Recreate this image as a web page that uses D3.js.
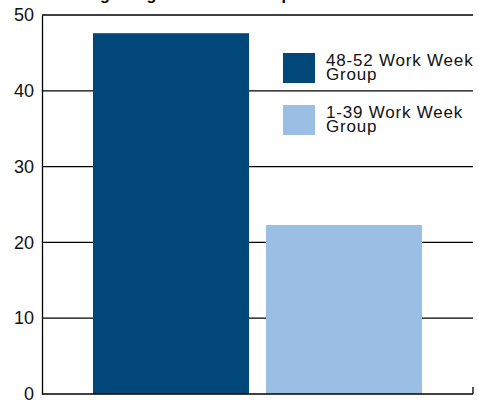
<!DOCTYPE html>
<html>
<head>
<meta charset="utf-8">
<script src="https://cdn.jsdelivr.net/npm/d3@7"></script>
<style>
  html, body { margin: 0; padding: 0; background: #fff; }
  svg { display: block; font-family: "Liberation Sans", Arial, Helvetica, sans-serif; }
</style>
</head>
<body>
<svg id="chart" width="479" height="400"></svg>
<script>
// Data
const groups = ["48-52 Work Week Group", "1-39 Work Week Group"];
const values = [47.6, 22.3];
const colors = ["#01477a", "#9bbfe4"];
const legendLines = [["48-52 Work Week", "Group"], ["1-39 Work Week", "Group"]];
const yTicks = [0, 10, 20, 30, 40, 50];
const title = "Average Wage Rates for Group";

const svg = d3.select("#chart");
const plot = { left: 42, right: 473, top: 15, bottom: 394 };

const y = d3.scaleLinear().domain([0, 50]).range([plot.bottom, plot.top]);
const x = d3.scaleBand().domain(groups).range([plot.left, plot.right])
  .paddingInner(0.0983).paddingOuter(0.2948);

// Title, running off the top edge
svg.append("text")
  .attr("x", 56).attr("y", 0)
  .attr("font-size", 16).attr("font-weight", "bold")
  .text(title);

// Horizontal gridlines
svg.append("g")
  .selectAll("line")
  .data(yTicks.filter(d => d > 0))
  .join("line")
  .attr("x1", plot.left).attr("x2", plot.right)
  .attr("y1", d => y(d)).attr("y2", d => y(d))
  .attr("stroke", "#000").attr("stroke-width", 1.3);

// Bars
svg.append("g")
  .selectAll("rect")
  .data(values)
  .join("rect")
  .attr("x", (d, i) => x(groups[i]))
  .attr("width", x.bandwidth())
  .attr("y", d => y(d))
  .attr("height", d => y(0) - y(d))
  .attr("fill", (d, i) => colors[i]);

// Left axis with labels
const yAxis = d3.axisLeft(y).tickValues(yTicks).tickSize(0).tickPadding(8);
const ga = svg.append("g").attr("transform", `translate(${plot.left},0)`).call(yAxis);
ga.select(".domain").attr("stroke", "#000").attr("stroke-width", 1.3);
ga.selectAll("text").attr("font-size", 18).attr("fill", "#111")
  .attr("font-family", "Liberation Sans, Arial, sans-serif");

// Baseline and closing tick on the right
svg.append("line")
  .attr("x1", plot.left).attr("x2", plot.right)
  .attr("y1", y(0)).attr("y2", y(0))
  .attr("stroke", "#000").attr("stroke-width", 1.3);
svg.append("line")
  .attr("x1", plot.right).attr("x2", plot.right)
  .attr("y1", y(0) - 7).attr("y2", y(0))
  .attr("stroke", "#000").attr("stroke-width", 1.3);

// Legend
const legend = svg.append("g");
const lg = legend.selectAll("g")
  .data(groups)
  .join("g")
  .attr("transform", (d, i) => `translate(283,${53 + i * 52})`);
lg.append("rect")
  .attr("width", 32).attr("height", 30)
  .attr("fill", (d, i) => colors[i]);
lg.append("text")
  .attr("x", 43).attr("y", 13)
  .attr("font-size", 17).attr("fill", "#111")
  .attr("letter-spacing", 0.8)
  .selectAll("tspan")
  .data((d, i) => legendLines[i])
  .join("tspan")
  .attr("x", 43)
  .attr("dy", (d, j) => j === 0 ? 0 : 14)
  .text(d => d);
</script>
</body>
</html>
